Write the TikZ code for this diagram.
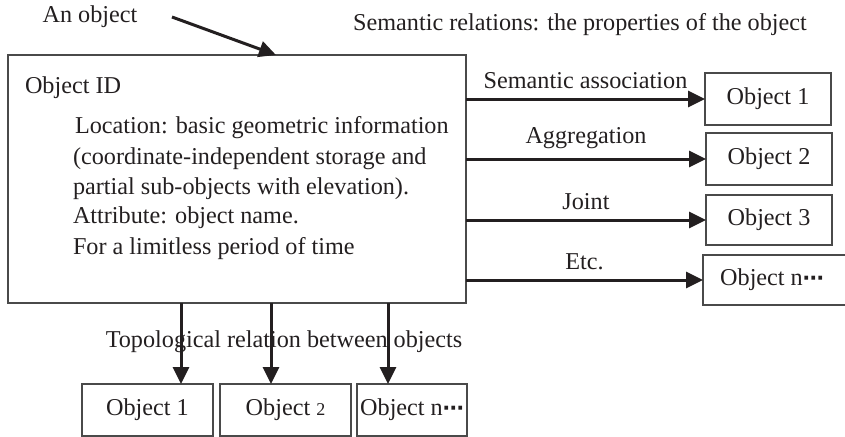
\documentclass[tikz,border=0pt]{standalone}
\usepackage{fontspec}
\setmainfont{Liberation Serif}
\newfontfamily\dotsfont{DejaVu Sans Bold}
\usetikzlibrary{arrows.meta}
\definecolor{ink}{HTML}{231F20}
\definecolor{frame}{HTML}{4A4A4A}
\newcommand{\mdots}{{\dotsfont\fontsize{21}{21}\selectfont ⋯}}
\begin{document}
\begin{tikzpicture}[x=1pt,y=-1pt,
  every node/.style={inner sep=0pt, outer sep=0pt, text=ink, font=\fontsize{24.2}{31}\selectfont},
  objbox/.style={draw=frame, line width=1.4pt, minimum height=52pt},
  arr/.style={draw=ink, line width=3pt, -{Triangle[length=17pt,width=16pt]}},
  lbl/.style={anchor=center}]
\useasboundingbox (0,0) rectangle (845,436);

% main object box and its contents
\node[objbox, minimum width=458pt, minimum height=248pt] (main) at (237,179) {};
\node[anchor=base west] (oid) at (25,93) {Object ID};
\node[anchor=base west] (l1) at (75,133) {Location: basic geometric information};
\node[anchor=base west] (l2) at (73,164) {(coordinate-independent storage and};
\node[anchor=base west] (l3) at (73,194) {partial sub-objects with elevation).};
\node[anchor=base west] (l4) at (73,223) {Attribute: object name.};
\node[anchor=base west] (l5) at (73,254) {For a limitless period of time};

% caption texts
\node[lbl] (anobj) at (90,17) {An object};
\node[lbl] (sem) at (580,25) {Semantic relations: the properties of the object};
\node[lbl] (topo) at (284,342) {Topological relation between objects};

% semantic targets
\node[objbox, minimum width=126pt] (r1) at (768,99) {Object 1};
\node[objbox, minimum width=126pt] (r2) at (769,159) {Object 2};
\node[objbox, minimum width=126pt, minimum height=50pt] (r3) at (769,220) {Object 3};
\node[objbox, minimum width=146pt, minimum height=50pt] (r4) at (776,280) {\hspace*{-8pt}Object n\mdots};

% topological targets
\node[objbox, minimum width=131pt] (b1) at (147.5,410) {Object 1};
\node[objbox, minimum width=131pt] (b2) at (285.5,410) {Object {\fontsize{18}{20}\selectfont 2}};
\node[objbox, minimum width=110pt] (b3) at (412,410) {Object n\mdots};

% incoming arrow
\coordinate (src) at (172,17);
\coordinate (hit) at (276,55);
\draw[arr] (src) -- (hit);

% semantic relation arrows
\draw[arr] (main.east |- r1.west) -- node[lbl, above=10pt] (s1) {Semantic association} (r1.west);
\draw[arr] (main.east |- r2.west) -- node[lbl, above=10pt] (s2) {Aggregation} (r2.west);
\draw[arr] (main.east |- r3.west) -- node[lbl, above=10pt] (s3) {Joint} (r3.west);
\draw[arr] (main.east |- r4.west) -- node[lbl, above=10pt] (s4) {Etc.} (r4.west);

% topological relation arrows
\coordinate (t1) at (181,384);
\coordinate (t2) at (271,384);
\coordinate (t3) at (388,384);
\draw[arr] (main.south -| t1) -- (t1);
\draw[arr] (main.south -| t2) -- (t2);
\draw[arr] (main.south -| t3) -- (t3);
\end{tikzpicture}
\end{document}
